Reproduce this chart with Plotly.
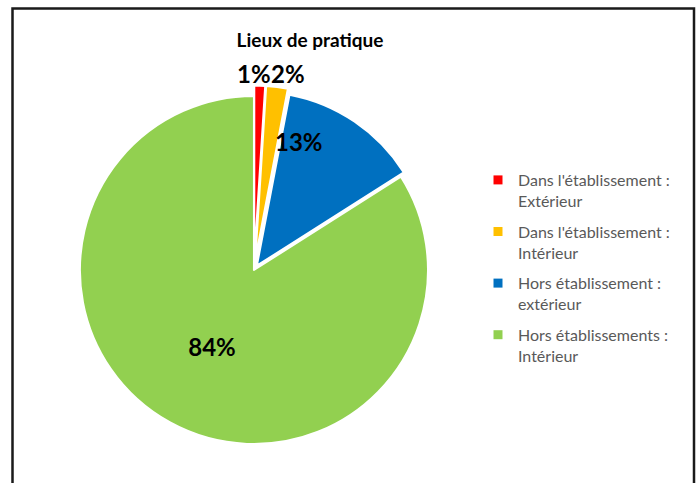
import plotly.graph_objects as go

FONT = 'Lato'
W, H = 697, 483

# DATA:
labels = [
    "Dans l'établissement :<br>Extérieur",
    "Dans l'établissement :<br>Intérieur",
    'Hors établissement :<br>extérieur',
    'Hors établissements :<br>Intérieur',
]
values = [1, 2, 13, 84]
colors = ['#FF0000', '#FFC000', '#0070C0', '#92D050']
pulls = [0.06, 0.06, 0.03, 0]
# small slices get their labels as annotations, placed like the original
text_positions = ['none', 'none', 'none', 'inside']
label_pos = [(254, 73), (288, 73), (299, 141)]

# PLOT PIE CHART:
fig = go.Figure(
    go.Pie(
        labels=labels,
        values=values,
        sort=False,
        direction='clockwise',
        rotation=0,
        pull=pulls,
        marker=dict(colors=colors, line=dict(color='white', width=2)),
        texttemplate='%{percent:.0%}',
        textposition=text_positions,
        textfont=dict(family=FONT, size=24, color='black', weight='bold'),
        insidetextorientation='horizontal',
        domain=dict(x=[0.0997, 0.629], y=[0.059, 0.823]),
        showlegend=False,
        hoverinfo='label+percent',
    )
)

# legend entries (one group per slice so the gap between entries can be set)
for i, (label, color) in enumerate(zip(labels, colors)):
    fig.add_trace(
        go.Scatter(
            x=[None],
            y=[None],
            mode='markers',
            name=label,
            legendgroup=f'g{i}',
            marker=dict(symbol='square', size=9, color=color),
            hoverinfo='skip',
        )
    )

total = sum(values)
annotations = [
    dict(
        text=f'<b>{round(v / total * 100)}%</b>',
        x=px / W,
        y=1 - py / H,
        xref='paper',
        yref='paper',
        xanchor='center',
        yanchor='middle',
        showarrow=False,
        font=dict(family=FONT, size=24, color='black'),
    )
    for v, (px, py) in zip(values[:3], label_pos)
]

fig.update_layout(
    width=W,
    height=H,
    paper_bgcolor='white',
    plot_bgcolor='white',
    margin=dict(t=0, b=0, l=0, r=0),
    xaxis=dict(visible=False),
    yaxis=dict(visible=False),
    title=dict(
        text='<b>Lieux de pratique</b>',
        font=dict(family=FONT, size=19, color='black'),
        x=310 / W,
        xanchor='center',
        y=1 - 40 / H,
        yanchor='middle',
    ),
    annotations=annotations,
    legend=dict(
        x=478 / W,
        y=1 - 163 / H,
        xanchor='left',
        yanchor='top',
        valign='top',
        tracegroupgap=7,
        font=dict(family=FONT, size=16, color='#595959'),
        bgcolor='rgba(0,0,0,0)',
    ),
    shapes=[
        dict(
            type='rect',
            xref='paper',
            yref='paper',
            x0=12.5 / W,
            x1=694 / W,
            y0=-0.05,
            y1=1 - 8.5 / H,
            line=dict(color='#1a1a1a', width=2.5),
            fillcolor='rgba(0,0,0,0)',
        )
    ],
)

fig.write_html(
    'out.html',
    config={'displayModeBar': False},
    post_script="document.body.style.margin='0';",
)
